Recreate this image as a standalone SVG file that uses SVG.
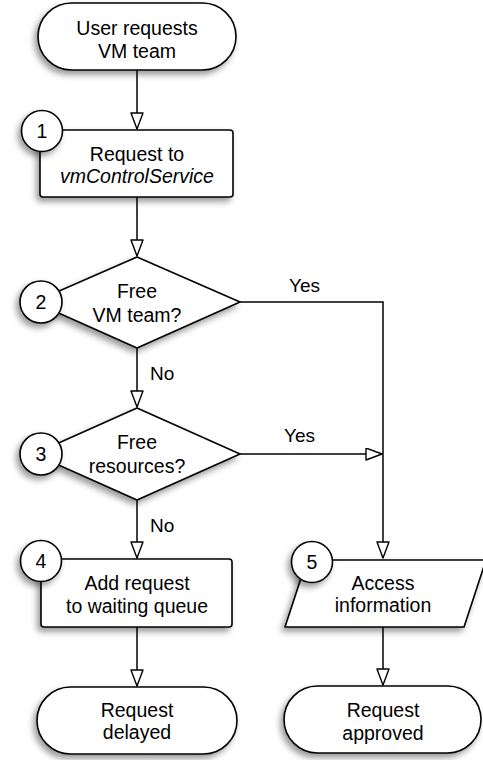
<svg xmlns="http://www.w3.org/2000/svg" width="483" height="760" viewBox="0 0 483 760">
<style>
.s{fill:#fff;stroke:#000;stroke-width:1.6;stroke-linejoin:round}
.t{font-family:"Liberation Sans",Arial,sans-serif;font-size:19.5px;fill:#000;text-anchor:middle}
.l{font-family:"Liberation Sans",Arial,sans-serif;font-size:19px;fill:#000}
.c{fill:none;stroke:#000;stroke-width:1.5}
</style>
<defs>
<filter id="sh" x="-30%" y="-30%" width="160%" height="170%">
<feDropShadow dx="-3" dy="4" stdDeviation="3" flood-color="#000" flood-opacity="0.4"/>
</filter>
<marker id="ah" markerUnits="userSpaceOnUse" markerWidth="20" markerHeight="14" refX="17" refY="6.5" orient="auto">
<path d="M1,0.5 L17,6.5 L1,12.5 Z" fill="#fff" stroke="#000" stroke-width="1.4" stroke-linejoin="round"/>
</marker>
</defs>
<g id="connectors">
<path class="c" d="M137,70 V129" marker-end="url(#ah)"/>
<path class="c" d="M137,197 V256" marker-end="url(#ah)"/>
<path class="c" d="M240,302 H383 V558" marker-end="url(#ah)"/>
<path class="c" d="M137,348 V407" marker-end="url(#ah)"/>
<path class="c" d="M240,454 H382" marker-end="url(#ah)"/>
<path class="c" d="M137,500 V558" marker-end="url(#ah)"/>
<path class="c" d="M137,627 V686" marker-end="url(#ah)"/>
<path class="c" d="M383,627 V685" marker-end="url(#ah)"/>
<text class="l" x="289" y="292">Yes</text>
<text class="l" x="284" y="442">Yes</text>
<text class="l" x="150" y="380">No</text>
<text class="l" x="150" y="532">No</text>
</g>
<g id="start">
<rect class="s" filter="url(#sh)" x="38" y="3" width="198" height="67" rx="33.5"/>
<text class="t" x="137" y="35">User requests</text>
<text class="t" x="137" y="58">VM team</text>
</g>
<g id="n1">
<rect class="s" filter="url(#sh)" x="40" y="130" width="193" height="67" rx="3"/>
<text class="t" x="137" y="161">Request to</text>
<text class="t" x="137" y="183" font-style="italic">vmControlService</text>
<circle class="s" filter="url(#sh)" cx="42" cy="131" r="20.5"/>
<text class="t" x="42" y="138">1</text>
</g>
<g id="n2">
<path class="s" filter="url(#sh)" d="M137,257 L240,302 L137,348 L34,302 Z"/>
<text class="t" x="137" y="298">Free</text>
<text class="t" x="137" y="322">VM team?</text>
<circle class="s" filter="url(#sh)" cx="41" cy="302" r="21"/>
<text class="t" x="41" y="309">2</text>
</g>
<g id="n3">
<path class="s" filter="url(#sh)" d="M137,408 L240,454 L137,500 L34,454 Z"/>
<text class="t" x="137" y="449">Free</text>
<text class="t" x="137" y="473">resources?</text>
<circle class="s" filter="url(#sh)" cx="41" cy="454" r="21"/>
<text class="t" x="41" y="461">3</text>
</g>
<g id="n4">
<rect class="s" filter="url(#sh)" x="41" y="559" width="191" height="68" rx="3"/>
<text class="t" x="137" y="590">Add request</text>
<text class="t" x="137" y="613">to waiting queue</text>
<circle class="s" filter="url(#sh)" cx="41" cy="561" r="20.5"/>
<text class="t" x="41" y="568">4</text>
</g>
<g id="n5">
<path class="s" filter="url(#sh)" d="M307,560 L486,560 L464,627 L285,627 Z"/>
<text class="t" x="383" y="590">Access</text>
<text class="t" x="383" y="612">information</text>
<circle class="s" filter="url(#sh)" cx="312" cy="562" r="20.5"/>
<text class="t" x="312" y="569">5</text>
</g>
<g id="delayed">
<rect class="s" filter="url(#sh)" x="37" y="687" width="200" height="67" rx="33.5"/>
<text class="t" x="137" y="717">Request</text>
<text class="t" x="137" y="739">delayed</text>
</g>
<g id="approved">
<rect class="s" filter="url(#sh)" x="284" y="686" width="197" height="67" rx="33.5"/>
<text class="t" x="383" y="717">Request</text>
<text class="t" x="383" y="740">approved</text>
</g>
</svg>
